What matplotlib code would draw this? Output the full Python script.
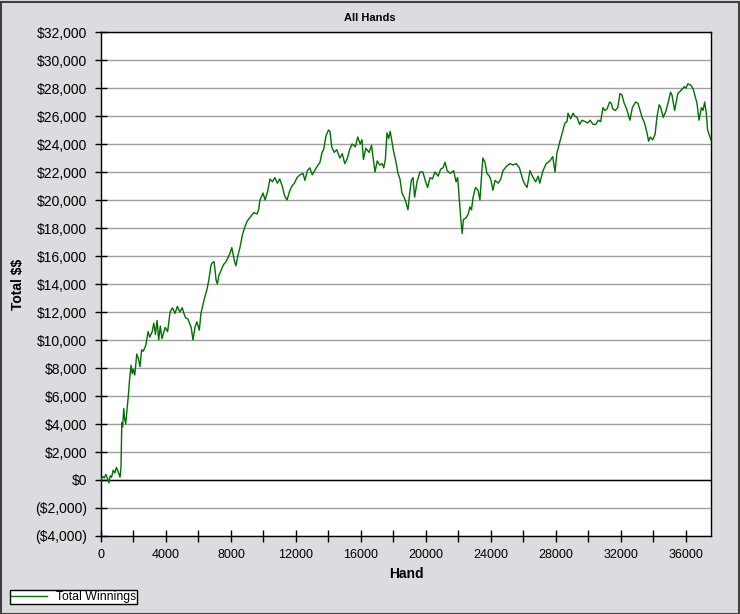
import matplotlib
matplotlib.use("Agg")
import matplotlib.pyplot as plt
from matplotlib.ticker import MultipleLocator, FuncFormatter
from matplotlib.patches import Rectangle

plt.rcParams['font.family'] = ['Liberation Sans', 'DejaVu Sans']
plt.rcParams['text.parse_math'] = False

title = "All Hands"
x_label = "Hand"
y_label = "Total $$"
series_name = "Total Winnings"

hands = [0, 100, 200, 300, 400, 490, 560, 650, 750, 850, 950, 1050, 1170, 1230, 1280,
         1330, 1400, 1450, 1520, 1600, 1680, 1760, 1850, 1920, 1990, 2080, 2200, 2300,
         2400, 2500, 2600, 2750, 2900, 3000, 3150, 3250, 3350, 3450, 3550, 3650, 3750,
         3850, 3950, 4100, 4250, 4400, 4550, 4700, 4850, 5000, 5100, 5200, 5350, 5550,
         5660, 5780, 5900, 6050, 6150, 6350, 6520, 6640, 6760, 6830, 6950, 7020, 7080,
         7160, 7250, 7400, 7550, 7700, 7940, 8050, 8200, 8300, 8420, 8550, 8700, 8860,
         9000, 9200, 9400, 9600, 9700, 9780, 9900, 9970, 10100, 10250, 10400, 10550,
         10700, 10850, 11000, 11150, 11300, 11450, 11600, 11750, 11900, 12060, 12250,
         12430, 12550, 12700, 12850, 13000, 13150, 13300, 13480, 13600, 13700, 13850,
         14000, 14090, 14200, 14350, 14500, 14700, 14850, 15000, 15140, 15300, 15450,
         15650, 15800, 15950, 16060, 16150, 16300, 16500, 16650, 16860, 17000, 17150,
         17300, 17400, 17500, 17600, 17700, 17800, 17900, 18000, 18120, 18280, 18400,
         18520, 18650, 18750, 18890, 19000, 19100, 19200, 19300, 19450, 19630, 19810,
         19950, 20100, 20250, 20400, 20550, 20750, 20900, 21050, 21170, 21300, 21500,
         21700, 21850, 21950, 22050, 22150, 22230, 22300, 22450, 22600, 22700, 22800,
         22900, 23050, 23200, 23320, 23400, 23500, 23630, 23750, 23900, 24000, 24120,
         24250, 24450, 24600, 24740, 24950, 25170, 25350, 25550, 25750, 25970, 26100,
         26220, 26400, 26590, 26750, 26900, 27000, 27200, 27400, 27630, 27800, 27940,
         28050, 28200, 28430, 28550, 28680, 28740, 28900, 29050, 29150, 29300, 29450,
         29600, 29800, 29950, 30100, 30280, 30450, 30600, 30750, 30890, 31000, 31140,
         31300, 31400, 31500, 31650, 31800, 31940, 32060, 32200, 32350, 32550, 32700,
         32900, 33050, 33150, 33300, 33450, 33600, 33700, 33800, 33950, 34100, 34210,
         34350, 34450, 34600, 34750, 34890, 35050, 35140, 35300, 35500, 35750, 35900,
         36000, 36120, 36300, 36450, 36680, 36800, 36950, 37050, 37150, 37250, 37330,
         37540]

winnings = [0, 250, 150, 400, 100, -200, 300, 200, 700, 500, 900, 600, 200, 900, 4100,
            3800, 5100, 4400, 4000, 5000, 6000, 7200, 8200, 7600, 7900, 7500, 9000, 8700,
            8100, 9300, 9200, 9600, 10600, 10200, 10600, 11200, 10400, 11400, 10000, 11000, 10100,
            10500, 10900, 10600, 12000, 12300, 11900, 12400, 12000, 12300, 11900, 11600, 11500, 10900,
            10000, 10900, 11300, 10700, 11900, 12900, 13600, 14300, 15300, 15500, 15600, 15000, 14300,
            14000, 14600, 15000, 15400, 15600, 16200, 16600, 15700, 15300, 16000, 16600, 17500, 18100,
            18500, 18800, 19100, 19000, 19300, 20000, 20300, 20500, 20000, 20600, 21500, 21300,
            21600, 21200, 21500, 21000, 20300, 20000, 20600, 21000, 21200, 21600, 21800,
            21900, 21400, 22100, 22300, 21800, 22100, 22400, 22700, 23400, 23600, 24600,
            25000, 24900, 23800, 23400, 23600, 23000, 23300, 22600, 22900, 23600, 24000,
            23800, 24500, 24000, 24300, 22900, 23700, 23400, 23900, 22000, 22800, 22500,
            22600, 22300, 22900, 24800, 24400, 24900, 24200, 23500, 22900, 21900, 21500,
            20500, 20200, 19900, 19300, 20500, 21400, 21600, 20200, 21300, 22000, 22000,
            21400, 20900, 21600, 21500, 22000, 21700, 22200, 22300, 22700, 22100, 21900,
            22100, 21300, 21600, 20000, 18500, 17600, 18600, 18700, 19000, 19500, 19300,
            20200, 20900, 20700, 20000, 21400, 23000, 22700, 21900, 21700, 21400, 20700,
            21400, 21200, 21500, 22100, 22400, 22600, 22500, 22600, 22300, 21400, 21100,
            20900, 22100, 21600, 21300, 21700, 21200, 22100, 22600, 22800, 23100, 22000,
            23300, 24000, 25000, 25500, 25600, 26200, 25800, 26200, 26000, 25900, 25400,
            25700, 25600, 25500, 25700, 25400, 25400, 25700, 25600, 26600, 26400, 26500,
            27000, 26900, 26500, 26400, 26600, 27600, 27500, 26900, 26500, 25700, 26600,
            27000, 26900, 26500, 25900, 25500, 24800, 24200, 24500, 24300, 24700, 25900,
            26800, 26600, 25900, 26300, 26900, 27700, 27500, 26400, 27600, 27900, 28100,
            28000, 28300, 28200, 27900, 26900, 25700, 26600, 26400, 27000, 26200, 25000,
            24300]

x_ticks = [0, 4000, 8000, 12000, 16000, 20000, 24000, 28000, 32000, 36000]
y_ticks = [-4000, -2000, 0, 2000, 4000, 6000, 8000, 10000, 12000, 14000, 16000,
           18000, 20000, 22000, 24000, 26000, 28000, 30000, 32000]

W, H = 740, 614
bg = '#dcdce0'
fig = plt.figure(figsize=(W / 100, H / 100), dpi=100, facecolor=bg)
ax = fig.add_axes([101 / W, 1 - 536 / H, 610 / W, 504 / H])
ax.set_facecolor('white')

ax.plot(hands, winnings, color='#007000', lw=1.0, label=series_name, zorder=3)

ax.set_xlim(0, 37540)
ax.set_ylim(-4000, 32000)
ax.set_xticks(x_ticks)
ax.xaxis.set_minor_locator(MultipleLocator(2000))
ax.set_yticks(y_ticks)

def fmt(v, pos=None):
    if v < 0:
        return "(${:,.0f})".format(-v)
    return "${:,.0f}".format(v)

ax.yaxis.set_major_formatter(FuncFormatter(fmt))
ax.grid(axis='y', color='#a0a0a0', lw=1.0, zorder=1)
ax.axhline(0, color='black', lw=1.0, zorder=2)

ax.tick_params(axis='y', which='major', direction='inout', length=8, width=1,
               labelsize=10, pad=6, colors='black')
ax.tick_params(axis='x', which='both', direction='inout', length=8, width=1,
               labelsize=9, pad=5, colors='black')
for s in ax.spines.values():
    s.set_color('black')
    s.set_linewidth(1.0)

fig.text(0.5, 1 - 18 / H, title, ha='center', va='center', fontsize=8, fontweight='bold')
fig.text(18 / W, 1 - 284 / H, y_label, ha='center', va='center', rotation=90,
         fontsize=10, fontweight='bold')
fig.text(406 / W, 1 - 574 / H, x_label, ha='center', va='center', fontsize=10,
         fontweight='bold')

leg = fig.legend(loc='lower left', bbox_to_anchor=(10 / W, 10 / H), fontsize=8.8,
                 frameon=True, fancybox=False, framealpha=1, edgecolor='black',
                 borderpad=0.1, handlelength=2.9, handletextpad=0.75,
                 borderaxespad=0)
leg.get_frame().set_linewidth(1.0)

fig.add_artist(Rectangle((0.5 / W, 0.5 / H), 1 - 2 / W, 1 - 2 / H,
                         transform=fig.transFigure, fill=False,
                         edgecolor='#404040', lw=1.5))

fig.savefig('out.png', dpi=100, facecolor=bg)
